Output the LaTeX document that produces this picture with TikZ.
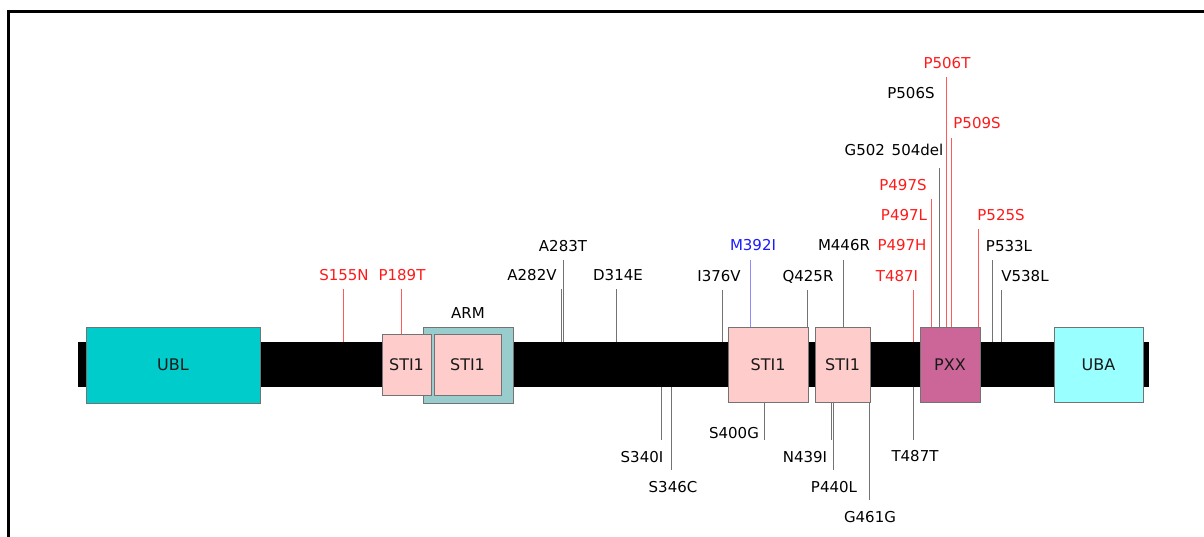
\documentclass[tikz,border=0pt]{standalone}
\usepackage{fontspec}
\setmainfont{DejaVu Sans}
\usetikzlibrary{positioning}

\definecolor{ublcol}{HTML}{00CCCC}
\definecolor{ubacol}{HTML}{99FFFF}
\definecolor{sticol}{HTML}{FFCCCC}
\definecolor{armcol}{HTML}{99CCCC}
\definecolor{pxxcol}{HTML}{CC6699}
\definecolor{mutred}{HTML}{FF1A1A}
\definecolor{mutblue}{HTML}{1A1AFF}

\begin{document}
\begin{tikzpicture}[
    x=1pt, y=-1pt,
    dom/.style={rectangle, draw=black!55, line width=0.8pt, inner sep=0pt, text=black!90, font=\fontsize{16}{19}\selectfont},
    lbl/.style={inner sep=0pt, text height=11pt, text depth=0pt, font=\fontsize{15}{18}\selectfont},
    stem/.style={draw=black!55, line width=1pt},
    redstem/.style={draw=red!65, line width=0.8pt},
    bluestem/.style={draw=blue!45, line width=0.8pt}
]
\useasboundingbox (0,0) rectangle (1204,536);

% frame
\draw[line width=3pt] (8,545) -- (8,11.5) -- (1215,11.5);

% backbone and domains
\node[fill=black, inner sep=0pt, minimum width=1071pt, minimum height=45pt] (bar) at (613.5,364.5) {};
\node[dom, fill=ublcol, minimum width=174pt, minimum height=76pt] (ubl) at (173,365) {UBL};
\node[dom, fill=armcol, minimum width=90pt, minimum height=76pt] (arm) at (468,365) {};
\node[dom, fill=sticol, minimum width=49pt, minimum height=61pt] (stiA) at (406.5,364.5) {STI1};
\node[dom, fill=sticol, minimum width=67pt, minimum height=61pt] (stiB) at (467.5,364.5) {STI1};
\node[dom, fill=sticol, minimum width=80pt, minimum height=75pt] (stiC) at (768,364.5) {STI1};
\node[dom, fill=sticol, minimum width=55pt, minimum height=75pt] (stiD) at (842.5,364.5) {STI1};
\node[dom, fill=pxxcol, minimum width=60pt, minimum height=75pt] (pxx) at (950,364.5) {PXX};
\node[dom, fill=ubacol, minimum width=89pt, minimum height=75pt] (uba) at (1098.5,364.5) {UBA};
\node[lbl] (armlab) at (468,313) {ARM};

% mutations above
\node[lbl, text=mutred] (s155n) at (344,275) {S155N};
\node[lbl, text=mutred] (p189t) at (402,275) {P189T};
\node[lbl] (a282v) at (532,275) {A282V};
\node[lbl] (a283t) at (563,246) {A283T};
\node[lbl] (d314e) at (618,275) {D314E};
\node[lbl] (i376v) at (719,276) {I376V};
\node[lbl, text=mutblue] (m392i) at (753,245) {M392I};
\node[lbl] (q425r) at (808,276) {Q425R};
\node[lbl] (m446r) at (844,245) {M446R};
\node[lbl, text=mutred] (t487i) at (897,276) {T487I};
\node[lbl, text=mutred] (p497h) at (902,245) {P497H};
\node[lbl, text=mutred] (p497l) at (904,215) {P497L};
\node[lbl, text=mutred] (p497s) at (903,185) {P497S};
\node[lbl] (g502) at (894,150) {G502\hspace{0.45em}504del};
\node[lbl] (p506s) at (911,93) {P506S};
\node[lbl, text=mutred] (p506t) at (947,63) {P506T};
\node[lbl, text=mutred] (p509s) at (977,123) {P509S};
\node[lbl, text=mutred] (p525s) at (1001,215) {P525S};
\node[lbl] (p533l) at (1009,246) {P533L};
\node[lbl] (v538l) at (1025,276) {V538L};

\draw[redstem] ([yshift=-8.5pt]s155n.south -| 343,0) -- (343,0 |- bar.north);
\draw[redstem] ([yshift=-8.5pt]p189t.south -| 401,0) -- (401,0 |- stiA.north);
\draw[stem] ([yshift=-8.5pt]a282v.south -| 561,0) -- (561,0 |- bar.north);
\draw[stem] ([yshift=-8.5pt]a283t.south -| 563,0) -- (563,0 |- bar.north);
\draw[stem] ([yshift=-8.5pt]d314e.south -| 616,0) -- (616,0 |- bar.north);
\draw[stem] ([yshift=-8.5pt]i376v.south -| 722,0) -- (722,0 |- bar.north);
\draw[bluestem] ([yshift=-9.5pt]m392i.south -| 750,0) -- (750,0 |- stiC.north);
\draw[stem] ([yshift=-8.5pt]q425r.south -| 807,0) -- (807,0 |- stiC.north);
\draw[stem] ([yshift=-9.5pt]m446r.south -| 843,0) -- (843,0 |- stiD.north);
\draw[redstem] ([yshift=-8.5pt]t487i.south -| 913,0) -- (913,0 |- bar.north);
\draw[redstem] ([yshift=-8.5pt]p497s.south -| 931,0) -- (931,0 |- pxx.north);
\draw[stem] ([yshift=-12.5pt]g502.south -| 939,0) -- (939,0 |- pxx.north);
\draw[stem] ([yshift=-8.5pt]p506s.south -| 946,0) -- (946,0 |- pxx.north);
\draw[redstem] ([yshift=-8.5pt]p506t.south -| 946,0) -- (946,0 |- pxx.north);
\draw[redstem] ([yshift=-9.5pt]p509s.south -| 951,0) -- (951,0 |- pxx.north);
\draw[redstem] ([yshift=-8.5pt]p525s.south -| 978,0) -- (978,0 |- pxx.north);
\draw[stem] ([yshift=-8.5pt]p533l.south -| 992,0) -- (992,0 |- bar.north);
\draw[stem] ([yshift=-8.5pt]v538l.south -| 1001,0) -- (1001,0 |- bar.north);

% mutations below
\node[lbl] (s340i) at (642,457) {S340I};
\node[lbl] (s346c) at (673,487) {S346C};
\node[lbl] (s400g) at (734,433) {S400G};
\node[lbl] (n439i) at (805,457) {N439I};
\node[lbl] (p440l) at (834,487) {P440L};
\node[lbl] (g461g) at (870,517) {G461G};
\node[lbl] (t487t) at (915,456) {T487T};

\draw[stem] (661,0 |- bar.south) -- ([yshift=11.5pt]s340i.north -| 661,0);
\draw[stem] (671,0 |- bar.south) -- ([yshift=11.5pt]s346c.north -| 671,0);
\draw[stem] (764,0 |- stiC.south) -- ([yshift=-12.5pt]s400g.north -| 764,0);
\draw[stem] (831,0 |- stiD.south) -- ([yshift=11.5pt]n439i.north -| 831,0);
\draw[stem] (833,0 |- stiD.south) -- ([yshift=11.5pt]p440l.north -| 833,0);
\draw[stem] (869,0 |- stiD.south) -- ([yshift=11.5pt]g461g.north -| 869,0);
\draw[stem] (913,0 |- bar.south) -- ([yshift=10.5pt]t487t.north -| 913,0);

\end{tikzpicture}
\end{document}
